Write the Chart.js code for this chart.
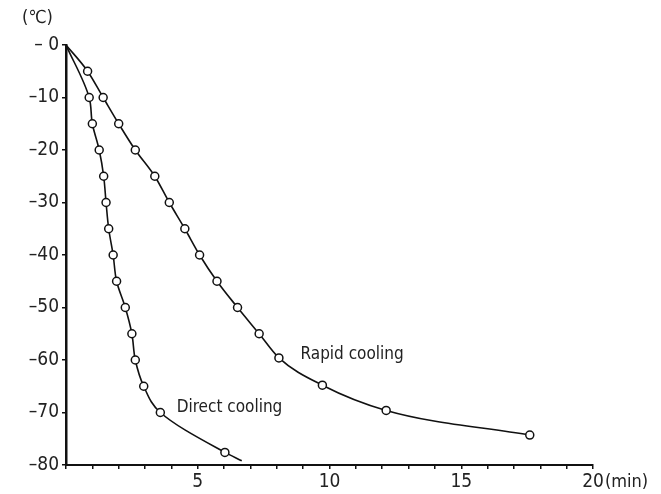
<html>
<head>
<meta charset="utf-8">
<title>Cooling curves</title>
<script src="https://cdn.jsdelivr.net/npm/chart.js"></script>
<style>
  body { margin: 0; background: #fff; }
</style>
</head>
<body>
<canvas id="myChart" width="661" height="494"></canvas>
<script>
// time (min) and temperature (deg C)
// (first and last unmarked points are just where the drawn curve starts / ends)
var directX = [0, 0.88, 1.0, 1.26, 1.43, 1.52, 1.62, 1.79, 1.92, 2.25, 2.5, 2.63, 2.95, 3.58, 6.03, 6.67];
var directY = [0, -10, -15, -20, -25, -30, -35, -40, -45, -50, -55, -60, -65, -70, -77.6, -79.2];
var directMarked = [0, 1, 1, 1, 1, 1, 1, 1, 1, 1, 1, 1, 1, 1, 1, 0];
var rapidX = [0, 0.82, 1.41, 2.0, 2.63, 3.37, 3.92, 4.51, 5.07, 5.73, 6.51, 7.33, 8.08, 9.73, 12.15, 17.6];
var rapidY = [0, -5, -10, -15, -20, -25, -30, -35, -40, -45, -50, -55, -59.6, -64.8, -69.6, -74.3];
var rapidMarked = [0, 1, 1, 1, 1, 1, 1, 1, 1, 1, 1, 1, 1, 1, 1, 1];

var xLabels = {5: '5', 10: '10', 15: '15', 20: '20'};
var yTickLabels = ['– 0', '–10', '–20', '–30', '–40', '–50', '–60', '–70', '–80'];

var seriesNames = ['Direct cooling', 'Rapid cooling'];

var FONT = "'Liberation Sans Narrow', 'DejaVu Sans Condensed', 'Liberation Sans', sans-serif";

function toPoints(xs, ys) {
    var pts = [];
    for (var i = 0; i < xs.length; i++) pts.push({x: xs[i], y: ys[i]});
    return pts;
}

var textPlugin = {
    id: 'texts',
    afterDraw: function (chart) {
        var ctx = chart.ctx;
        var xs = chart.scales.x, ys = chart.scales.y;
        ctx.save();
        ctx.fillStyle = '#222';
        ctx.textBaseline = 'middle';
        ctx.font = '18px ' + FONT;
        ctx.textAlign = 'left';
        ctx.fillText('(℃)', 22, 18);
        ctx.fillText('(min)', xs.getPixelForValue(20) + 12, 482);
        ctx.font = '17px ' + FONT;
        ctx.fillText(seriesNames[1], xs.getPixelForValue(8.9), ys.getPixelForValue(-59));
        ctx.fillText(seriesNames[0], xs.getPixelForValue(4.2), ys.getPixelForValue(-69));
        ctx.restore();
    }
};

var config = {
    type: 'line',
    data: {
        datasets: [{
            label: seriesNames[0],
            data: toPoints(directX, directY),
            // steep curve: interpolate along the temperature axis
            indexAxis: 'y',
            borderColor: '#111',
            borderWidth: 1.6,
            pointRadius: directMarked.map(function (m) { return m ? 4 : 0; }),
            pointBackgroundColor: '#fff',
            pointBorderColor: '#111',
            pointBorderWidth: 1.5,
            cubicInterpolationMode: 'monotone'
        }, {
            label: seriesNames[1],
            data: toPoints(rapidX, rapidY),
            borderColor: '#111',
            borderWidth: 1.6,
            pointRadius: rapidMarked.map(function (m) { return m ? 4 : 0; }),
            pointBackgroundColor: '#fff',
            pointBorderColor: '#111',
            pointBorderWidth: 1.5,
            cubicInterpolationMode: 'monotone'
        }]
    },
    options: {
        responsive: false,
        animation: false,
        layout: { padding: { top: 45, right: 68, left: 0, bottom: 0 } },
        plugins: { legend: { display: false }, tooltip: { enabled: false } },
        scales: {
            x: {
                type: 'linear',
                position: 'bottom',
                min: 0,
                max: 20,
                afterFit: function (s) { s.height = 29; },
                border: { color: '#111', width: 2 },
                grid: { drawOnChartArea: false, drawTicks: true, tickLength: 4, color: '#111', lineWidth: 1.5 },
                ticks: {
                    stepSize: 1,
                    autoSkip: false,
                    maxRotation: 0,
                    padding: 2,
                    color: '#222',
                    font: { family: FONT, size: 19 },
                    callback: function (v) { return xLabels[v] || ''; }
                }
            },
            y: {
                type: 'linear',
                position: 'left',
                min: -80,
                max: 0,
                afterFit: function (s) { s.width = 66; },
                border: { color: '#111', width: 2.5 },
                grid: { drawOnChartArea: false, drawTicks: true, tickLength: 4, color: '#111', lineWidth: 1.5 },
                ticks: {
                    stepSize: 10,
                    padding: 3,
                    color: '#222',
                    font: { family: FONT, size: 19 },
                    callback: function (v) { return yTickLabels[Math.round(-v / 10)]; }
                }
            }
        }
    },
    plugins: [textPlugin]
};

new Chart(document.getElementById('myChart'), config);
</script>
</body>
</html>
